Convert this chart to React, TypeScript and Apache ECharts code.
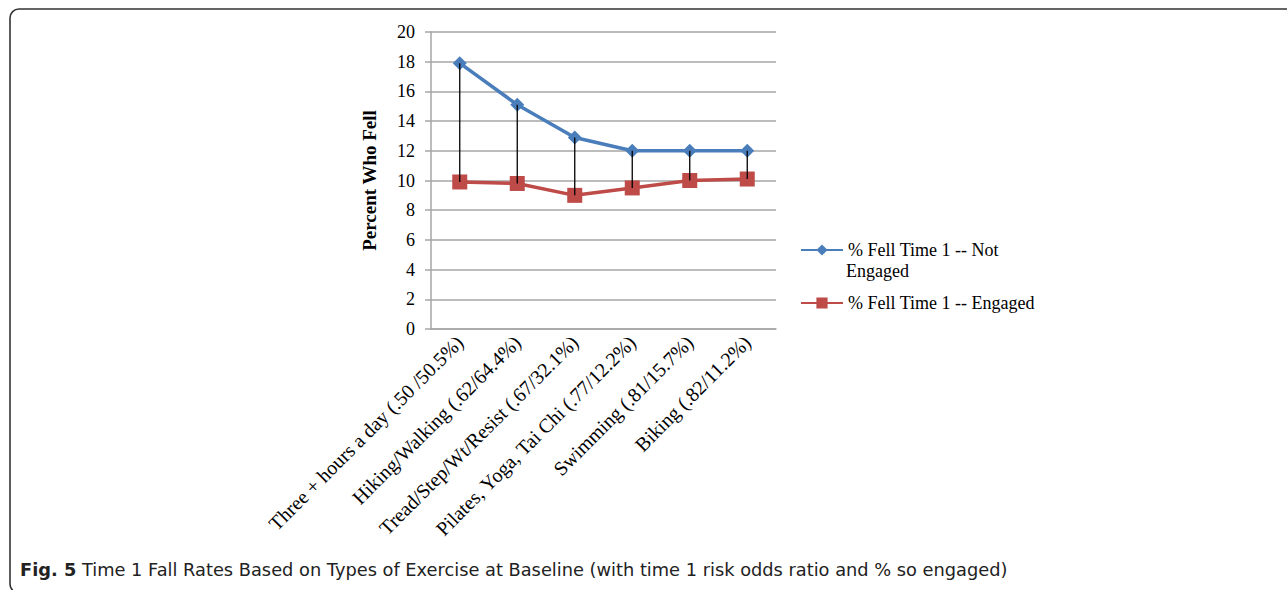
import React, { useEffect, useRef } from "react";
import * as echarts from "echarts";

const categories = [
  "Three + hours a day (.50 /50.5%)",
  "Hiking/Walking (.62/64.4%)",
  "Tread/Step/Wt/Resist (.67/32.1%)",
  "Pilates, Yoga, Tai Chi (.77/12.2%)",
  "Swimming (.81/15.7%)",
  "Biking (.82/11.2%)",
];
const notEngaged = [17.9, 15.1, 12.9, 12.0, 12.0, 12.0];
const engaged = [9.9, 9.8, 9.0, 9.5, 10.0, 10.1];
const yTicks = { min: 0, max: 20, interval: 2 };
const seriesNames = ["% Fell Time 1 -- Not Engaged", "% Fell Time 1 -- Engaged"];
const legendLines = ["% Fell Time 1 -- Not", "Engaged"];
const caption = "Time 1 Fall Rates Based on Types of Exercise at Baseline (with time 1 risk odds ratio and % so engaged)";

export default function App() {
  const ref = useRef<HTMLDivElement>(null);
  useEffect(() => {
    if (!ref.current) return;
    const chart = echarts.init(ref.current, null, { renderer: "svg" });
    const serif = "'Liberation Serif', 'Times New Roman', serif";
    const sans = "'DejaVu Sans', 'Open Sans', sans-serif";
    const hiLow = categories.map((_, i) => [i, notEngaged[i], engaged[i]]);
    chart.setOption({
      animation: false,
      backgroundColor: "#fff",
      grid: { left: 431, right: 511, top: 32, bottom: 261, containLabel: false },
      legend: [
        {
          data: [seriesNames[0]],
          orient: "vertical",
          left: 800,
          top: 241,
          padding: 0,
          itemWidth: 42,
          itemHeight: 14,
          formatter: () => legendLines[0],
          textStyle: { fontFamily: serif, fontSize: 18, color: "#000" },
        },
        {
          data: [seriesNames[1]],
          orient: "vertical",
          left: 800,
          top: 294,
          padding: 0,
          itemWidth: 42,
          itemHeight: 14,
          textStyle: { fontFamily: serif, fontSize: 18, color: "#000" },
        },
      ],
      xAxis: {
        type: "category",
        data: categories,
        boundaryGap: true,
        axisLine: { lineStyle: { color: "#a6a6a6", width: 1.5 } },
        axisTick: { show: false },
        axisLabel: {
          rotate: 45,
          interval: 0,
          fontFamily: serif,
          fontSize: 20,
          color: "#000",
          margin: 10,
        },
      },
      yAxis: {
        type: "value",
        min: yTicks.min,
        max: yTicks.max,
        interval: yTicks.interval,
        name: "Percent Who Fell",
        nameLocation: "middle",
        nameGap: 52,
        nameRotate: 90,
        nameTextStyle: { fontFamily: serif, fontSize: 19, fontWeight: "bold", color: "#000" },
        axisLine: { show: true, lineStyle: { color: "#a6a6a6", width: 1.5 } },
        axisTick: { show: true, length: 6, lineStyle: { color: "#a6a6a6", width: 1.5 } },
        axisLabel: { fontFamily: serif, fontSize: 18, color: "#000", margin: 16 },
        splitLine: { lineStyle: { color: "#a6a6a6", width: 1.5 } },
      },
      series: [
        {
          type: "custom",
          silent: true,
          z: 5,
          data: hiLow,
          renderItem: (params: any, api: any) => {
            const x = api.value(0);
            const p1 = api.coord([x, api.value(1)]);
            const p2 = api.coord([x, api.value(2)]);
            return {
              type: "line",
              shape: { x1: p1[0], y1: p1[1], x2: p2[0], y2: p2[1] },
              style: { stroke: "#000", lineWidth: 1.3 },
            };
          },
        },
        {
          name: seriesNames[0],
          type: "line",
          data: notEngaged,
          z: 3,
          symbol: "diamond",
          symbolSize: 14,
          color: "#4a7ebb",
          lineStyle: { color: "#4a7ebb", width: 3.5 },
          itemStyle: { color: "#4a7ebb" },
        },
        {
          name: seriesNames[1],
          type: "line",
          data: engaged,
          z: 3,
          symbol: "rect",
          symbolSize: 15,
          color: "#be4b48",
          lineStyle: { color: "#be4b48", width: 3.5 },
          itemStyle: { color: "#be4b48" },
        },
      ],
      graphic: [
        {
          type: "rect",
          shape: { x: 10, y: 9, width: 1300, height: 584, r: 9 },
          style: { fill: "none", stroke: "#333", lineWidth: 1.6 },
          silent: true,
        },
        {
          type: "text",
          left: 846,
          top: 262,
          style: { text: legendLines[1], fontFamily: serif, fontSize: 18, fill: "#000" },
        },
        {
          type: "text",
          left: 20,
          top: 560,
          style: {
            text: "{b|Fig. 5} " + caption,
            fontFamily: sans,
            fontSize: 17.8,
            fill: "#222",
            rich: {
              b: { fontFamily: sans, fontSize: 17.8, fontWeight: "bold", fill: "#222" },
            },
          },
        },
      ],
    });
    return () => chart.dispose();
  }, []);
  return <div ref={ref} style={{ width: 1287, height: 590, position: "absolute", left: 0, top: 0 }} />;
}
